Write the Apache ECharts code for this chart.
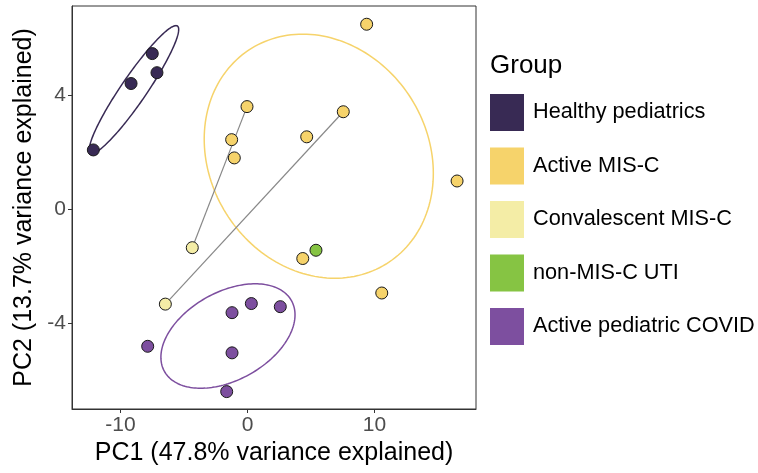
<!DOCTYPE html>
<html>
<head>
<meta charset="utf-8">
<script src="https://cdn.jsdelivr.net/npm/echarts@6/dist/echarts.min.js"></script>
<style>
  html, body { margin: 0; padding: 0; background: #fff; }
  #chart { width: 758px; height: 473px; }
</style>
</head>
<body>
<div id="chart"></div>
<script>
// PCA scores per group
var groupNames = ['Healthy pediatrics', 'Active MIS-C', 'Convalescent MIS-C', 'non-MIS-C UTI', 'Active pediatric COVID'];
var groupColors = ['#382a54', '#f6d36b', '#f4eda6', '#86c443', '#7d4f9f'];

var healthyX = [-12.14, -9.17, -7.50, -7.13];
var healthyY = [2.07, 4.40, 5.45, 4.78];
var activeMiscX = [9.38, -0.04, -1.25, -1.04, 4.66, 7.54, 16.5, 4.35, 10.57];
var activeMiscY = [6.48, 3.59, 2.43, 1.79, 2.53, 3.41, 0.98, -1.74, -2.95];
var convMiscX = [-4.35, -6.47];
var convMiscY = [-1.36, -3.34];
var utiX = [5.39];
var utiY = [-1.45];
var covidX = [-1.22, 0.30, 2.58, -7.86, -1.22, -1.64];
var covidY = [-3.64, -3.32, -3.43, -4.82, -5.05, -6.41];

// paired samples: [convalescent index, active index]
var pairs = [[0, 1], [1, 5]];

// confidence ellipses: centre and two conjugate half-axis vectors (data units)
var ellipseGroup = [0, 1, 4];
var ellipseCX = [-8.94, 5.61, -1.54];
var ellipseCY = [4.19, 1.85, -4.46];
var ellipseUX = [3.52, 9.02, 5.28];
var ellipseUY = [2.105, -0.60, 0.744];
var ellipseVX = [0, 0, 0];
var ellipseVY = [-0.772, -4.24, -1.674];

var xTicks = [-10, 0, 10];
var yTicks = [-4, 0, 4];

function zip(xs, ys) { return xs.map(function (x, i) { return [x, ys[i]]; }); }
var groupXs = [healthyX, activeMiscX, convMiscX, utiX, covidX];
var groupYs = [healthyY, activeMiscY, convMiscY, utiY, covidY];

var FONT = "'Liberation Sans', Arial, Helvetica, sans-serif";

var series = [];

// ellipses
series.push({
  type: 'custom',
  silent: true,
  z: 1,
  data: ellipseCX.map(function (cx, i) {
    return [cx, ellipseCY[i], ellipseUX[i], ellipseUY[i], ellipseVX[i], ellipseVY[i], ellipseGroup[i]];
  }),
  encode: { x: 0, y: 1 },
  renderItem: function (params, api) {
    var cx = api.value(0), cy = api.value(1);
    var ux = api.value(2), uy = api.value(3), vx = api.value(4), vy = api.value(5);
    var g = api.value(6);
    var pts = [];
    var n = 180;
    for (var k = 0; k < n; k++) {
      var t = 2 * Math.PI * k / n;
      var c = Math.cos(t), s = Math.sin(t);
      pts.push(api.coord([cx + ux * c + vx * s, cy + uy * c + vy * s]));
    }
    return {
      type: 'polygon',
      shape: { points: pts },
      style: { fill: 'none', stroke: groupColors[g], lineWidth: 1.5 }
    };
  }
});

// lines between paired samples
pairs.forEach(function (p) {
  series.push({
    type: 'line',
    silent: true,
    z: 2,
    symbol: 'none',
    lineStyle: { color: '#888888', width: 1.2 },
    data: [[convMiscX[p[0]], convMiscY[p[0]]], [activeMiscX[p[1]], activeMiscY[p[1]]]]
  });
});

// points
groupNames.forEach(function (name, i) {
  series.push({
    type: 'scatter',
    name: name,
    z: 3,
    symbolSize: 12,
    itemStyle: { color: groupColors[i], borderColor: '#1a1a1a', borderWidth: 1, opacity: 1 },
    data: zip(groupXs[i], groupYs[i])
  });
});

var chart = echarts.init(document.getElementById('chart'), null, { renderer: 'canvas' });
chart.setOption({
  animation: false,
  backgroundColor: '#ffffff',
  grid: { left: 72, right: 282, top: 6, bottom: 64, show: true, borderColor: '#333333', borderWidth: 1, containLabel: false },
  xAxis: {
    type: 'value',
    min: -13.82,
    max: 17.99,
    name: 'PC1 (47.8% variance explained)',
    nameLocation: 'middle',
    nameGap: 31,
    nameTextStyle: { fontFamily: FONT, fontSize: 25, color: '#000' },
    axisLine: { show: true, onZero: false, lineStyle: { color: '#333333', width: 1 } },
    axisTick: { show: true, length: 4, customValues: xTicks, lineStyle: { color: '#333333' } },
    axisLabel: { customValues: xTicks, margin: 6, fontFamily: FONT, fontSize: 21, color: '#4d4d4d' },
    splitLine: { show: false }
  },
  yAxis: {
    type: 'value',
    min: -7.02,
    max: 7.12,
    name: 'PC2 (13.7% variance explained)',
    nameLocation: 'middle',
    nameGap: 32,
    nameTextStyle: { fontFamily: FONT, fontSize: 25, color: '#000' },
    axisLine: { show: true, onZero: false, lineStyle: { color: '#333333', width: 1 } },
    axisTick: { show: true, length: 4, customValues: yTicks, lineStyle: { color: '#333333' } },
    axisLabel: { customValues: yTicks, margin: 6, fontFamily: FONT, fontSize: 21, color: '#4d4d4d' },
    splitLine: { show: false }
  },
  legend: {
    orient: 'vertical',
    left: 490,
    top: 94,
    padding: 0,
    icon: 'rect',
    itemWidth: 34,
    itemHeight: 37,
    itemGap: 16.5,
    selectedMode: false,
    itemStyle: { borderWidth: 0 },
    textStyle: { fontFamily: FONT, fontSize: 21.7, color: '#000', padding: [0, 0, 0, 4] },
    data: groupNames
  },
  graphic: [{
    type: 'text',
    left: 490,
    top: 53,
    style: { text: 'Group', font: "26px 'Liberation Sans', Arial, sans-serif", fill: '#000' }
  }],
  series: series
});
</script>
</body>
</html>
